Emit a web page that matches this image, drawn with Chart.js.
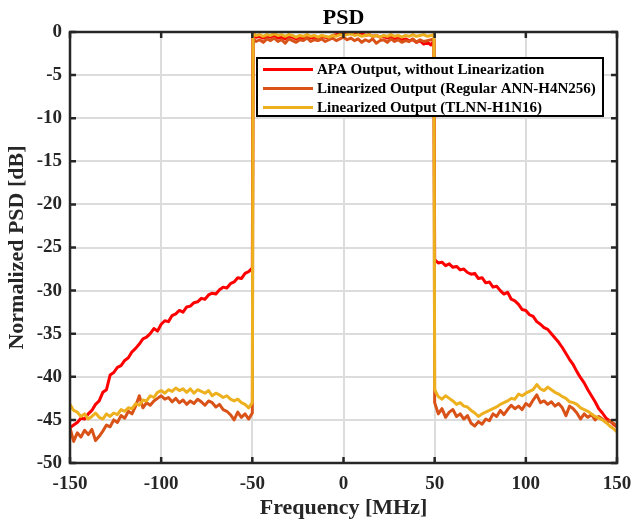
<!DOCTYPE html>
<html>
<head>
<meta charset="utf-8">
<title>PSD</title>
<script src="https://cdn.jsdelivr.net/npm/chart.js@4"></script>
<style>
  body { margin: 0; background: #fff; }
  #psdChart { display: block; }
</style>
</head>
<body>
<canvas id="psdChart" width="633" height="520"></canvas>
<script>
// --- DATA ---
// frequency points in MHz: lower stopband, passband, upper stopband
const freqMHz = [
  -150,-148,-146,-144,-142,-140,-138,-136,-134,-132,
  -130,-128,-126,-124,-122,-120,-118,-116,-114,-112,
  -110,-108,-106,-104,-102,-100,-98,-96,-94,-92,
  -90,-88,-86,-84,-82,-80,-78,-76,-74,-72,
  -70,-68,-66,-64,-62,-60,-58,-56,-54,-52,
  -50,
  -49.6,
  -48,-46,-44,-42,-40,-38,-36,-34,-32,-30,
  -28,-26,-24,-22,-20,-18,-16,-14,-12,-10,
  -8,-6,-4,-2,0,2,4,6,8,10,
  12,14,16,18,20,22,24,26,28,30,
  32,34,36,38,40,42,44,46,48,
  49.6,
  50,52,54,56,58,60,62,64,66,68,
  70,72,74,76,78,80,82,84,86,88,
  90,92,94,96,98,100,102,104,106,108,
  110,112,114,116,118,120,122,124,126,128,
  130,132,134,136,138,140,142,144,146,148,
  150
];

// APA output, without linearization
const apaPSD = [
  -45.9,-45.6,-45.3,-44.8,-44.9,-44.3,-43.9,-43.2,-42.8,-41.8,
  -41.5,-39.8,-39.5,-38.9,-38.7,-38.1,-37.8,-37.1,-36.7,-36.2,
  -35.6,-35.4,-35.0,-34.4,-34.7,-33.9,-33.5,-33.6,-32.9,-32.7,
  -32.3,-32.5,-31.9,-31.8,-31.4,-31.3,-30.9,-31.0,-30.5,-30.3,
  -30.4,-29.9,-29.6,-29.7,-29.2,-29.0,-28.5,-28.6,-28.0,-27.8,
  -27.4,
  -0.4,
  -0.6,-0.5,-0.7,-0.5,-0.6,-0.4,-0.7,-0.6,-0.8,-0.5,
  -0.6,-0.8,-0.6,-0.7,-0.5,-0.7,-0.6,-0.8,-0.5,-0.6,
  -0.7,-0.4,-0.3,-0.2,-0.3,-0.1,-0.2,-0.1,-0.3,-0.2,
  -0.4,-0.3,-0.5,-0.4,-0.6,-0.5,-0.7,-0.6,-0.8,-0.7,
  -0.9,-0.8,-1.0,-0.9,-1.2,-1.0,-1.4,-1.2,-1.5,
  -1.0,
  -26.4,-26.8,-26.7,-27.1,-26.9,-27.3,-27.2,-27.6,-27.5,-27.9,
  -28.1,-28.0,-28.6,-28.5,-29.1,-29.0,-29.6,-29.5,-30.0,-30.4,
  -30.2,-31.0,-31.2,-31.6,-32.2,-32.3,-32.8,-33.0,-33.6,-33.9,
  -34.3,-34.5,-35.0,-35.5,-36.0,-36.6,-37.3,-38.0,-38.6,-39.4,
  -40.1,-40.7,-41.5,-42.2,-42.9,-43.7,-44.2,-44.8,-45.1,-45.5,
  -45.8
];

// Linearized output, regular ANN-H4N256
const annPSD = [
  -45.9,-47.5,-46.5,-47.0,-46.2,-46.7,-46.1,-47.4,-46.9,-46.3,
  -45.6,-45.8,-45.0,-45.3,-44.5,-44.8,-44.0,-44.3,-43.4,-42.2,
  -43.6,-43.0,-43.3,-42.8,-42.5,-42.2,-42.6,-42.4,-42.9,-42.5,
  -43.0,-42.7,-43.2,-42.8,-43.1,-42.6,-42.9,-43.3,-42.8,-43.0,
  -43.5,-43.2,-43.8,-44.0,-44.4,-45.0,-44.1,-44.7,-44.3,-44.9,
  -44.2,
  -0.8,
  -1.1,-0.9,-1.2,-0.8,-1.0,-0.7,-1.1,-0.9,-1.3,-0.8,
  -1.0,-1.2,-0.9,-1.0,-0.7,-1.1,-0.9,-1.0,-0.8,-1.1,
  -0.9,-0.7,-1.0,-0.8,-0.6,-0.9,-0.7,-1.0,-0.8,-1.2,
  -0.9,-1.1,-0.8,-1.3,-1.0,-0.9,-1.2,-0.8,-1.1,-0.9,
  -1.2,-1.0,-1.1,-0.8,-1.2,-0.9,-1.1,-1.0,-0.9,
  -0.8,
  -43.0,-44.3,-43.7,-44.7,-44.1,-43.8,-44.6,-44.3,-44.9,-44.5,
  -45.4,-45.7,-45.2,-45.5,-44.9,-45.1,-44.3,-44.6,-43.9,-44.4,
  -43.8,-43.3,-43.7,-43.4,-43.8,-43.1,-43.4,-42.7,-42.1,-43.0,
  -42.8,-43.2,-42.9,-43.4,-43.1,-43.6,-44.5,-43.4,-43.7,-44.2,
  -44.9,-44.3,-44.7,-44.4,-45.0,-44.6,-44.9,-45.3,-45.1,-45.4,
  -45.7
];

// Linearized output, TLNN-H1N16
const tlnnPSD = [
  -43.2,-43.9,-44.1,-44.6,-44.3,-44.9,-44.6,-44.2,-44.7,-44.9,
  -44.3,-44.6,-44.2,-44.4,-43.8,-44.0,-43.6,-43.7,-43.1,-43.3,
  -42.7,-42.8,-42.2,-42.4,-41.8,-41.6,-41.9,-41.5,-41.7,-41.3,
  -41.6,-41.4,-41.8,-41.4,-41.9,-41.5,-41.7,-41.9,-41.6,-42.2,
  -41.9,-42.1,-42.4,-42.2,-42.6,-42.8,-42.6,-43.0,-43.2,-43.6,
  -43.0,
  -0.1,
  -0.4,-0.3,-0.5,-0.3,-0.4,-0.2,-0.4,-0.3,-0.5,-0.3,
  -0.4,-0.6,-0.4,-0.5,-0.3,-0.5,-0.4,-0.6,-0.4,-0.5,
  -0.6,-0.4,-0.5,-0.3,-0.4,-0.3,-0.2,-0.4,-0.3,-0.5,
  -0.4,-0.3,-0.5,-0.4,-0.6,-0.4,-0.5,-0.3,-0.5,-0.4,
  -0.6,-0.4,-0.5,-0.3,-0.5,-0.4,-0.3,-0.5,-0.4,
  -0.3,
  -41.5,-42.3,-42.6,-42.2,-42.5,-42.8,-43.2,-43.0,-43.4,-43.5,
  -43.9,-44.2,-44.6,-44.3,-44.1,-43.9,-43.7,-43.5,-43.2,-43.0,
  -42.8,-42.5,-42.6,-42.0,-42.2,-41.9,-41.7,-41.5,-40.9,-41.4,
  -41.6,-41.2,-41.5,-41.8,-42.0,-42.3,-42.5,-42.9,-43.0,-43.2,
  -43.6,-43.8,-44.0,-44.3,-44.6,-44.8,-45.0,-45.3,-45.7,-46.0,
  -46.4
];

const seriesLabels = [
  'APA Output, without Linearization',
  'Linearized Output (Regular ANN-H4N256)',
  'Linearized Output (TLNN-H1N16)'
];
const seriesColors = ['#FF0000', '#D95319', '#EDB120'];

const FONT = "'Liberation Serif', 'Times New Roman', serif";
const INK = '#262626';

function toPoints(values) {
  return values.map((v, i) => ({ x: freqMHz[i], y: v }));
}

// box, inward ticks, legend and title drawn on top of the lines
const matlabAxes = {
  id: 'matlabAxes',
  afterDatasetsDraw(chart) {
    const { ctx, chartArea: a, scales: { x, y } } = chart;
    ctx.save();
    ctx.strokeStyle = INK;
    ctx.lineWidth = 2.5;
    ctx.beginPath();
    x.ticks.forEach(t => {
      const px = x.getPixelForValue(t.value);
      ctx.moveTo(px, a.bottom); ctx.lineTo(px, a.bottom - 6);
      ctx.moveTo(px, a.top); ctx.lineTo(px, a.top + 6);
    });
    y.ticks.forEach(t => {
      const py = y.getPixelForValue(t.value);
      ctx.moveTo(a.left, py); ctx.lineTo(a.left + 6, py);
      ctx.moveTo(a.right, py); ctx.lineTo(a.right - 6, py);
    });
    ctx.stroke();
    ctx.strokeRect(a.left, a.top, a.right - a.left, a.bottom - a.top);

    // legend
    const lx = 257, ly = 58, lw = 346, lh = 58;
    ctx.fillStyle = '#fff';
    ctx.fillRect(lx, ly, lw, lh);
    ctx.lineWidth = 2;
    ctx.strokeStyle = '#000';
    ctx.strokeRect(lx, ly, lw, lh);
    ctx.font = 'bold 15px ' + FONT;
    ctx.textBaseline = 'middle';
    ctx.textAlign = 'left';
    chart.data.datasets.forEach((ds, i) => {
      const rowY = ly + 11.5 + i * 19;
      ctx.strokeStyle = ds.borderColor;
      ctx.lineWidth = 3;
      ctx.beginPath();
      ctx.moveTo(lx + 6, rowY); ctx.lineTo(lx + 56, rowY);
      ctx.stroke();
      ctx.fillStyle = '#000';
      ctx.fillText(ds.label, lx + 60, rowY + 1);
    });

    // title
    ctx.font = 'bold 22px ' + FONT;
    ctx.textAlign = 'center';
    ctx.textBaseline = 'alphabetic';
    ctx.fillStyle = '#000';
    ctx.fillText('PSD', (a.left + a.right) / 2, 23.5);
    ctx.restore();
  }
};

new Chart(document.getElementById('psdChart'), {
  type: 'line',
  data: {
    datasets: [
      { label: seriesLabels[0], data: toPoints(apaPSD), borderColor: seriesColors[0], order: 3 },
      { label: seriesLabels[1], data: toPoints(annPSD), borderColor: seriesColors[1], order: 2 },
      { label: seriesLabels[2], data: toPoints(tlnnPSD), borderColor: seriesColors[2], order: 1 }
    ]
  },
  options: {
    responsive: false,
    devicePixelRatio: 1,
    animation: false,
    layout: { padding: { top: 32, right: 16, left: 0, bottom: 0 } },
    elements: {
      line: { borderWidth: 3, tension: 0, fill: false, borderJoinStyle: 'round' },
      point: { radius: 0 }
    },
    plugins: {
      legend: { display: false },
      tooltip: { enabled: false },
      title: { display: false }
    },
    scales: {
      x: {
        type: 'linear',
        min: -150, max: 150,
        afterFit: s => { s.height = 57; s.paddingLeft = 0; s.paddingRight = 0; },
        ticks: { stepSize: 50, padding: 10, color: INK, font: { family: FONT, size: 19, weight: 'bold' }, maxRotation: 0 },
        grid: { color: '#dcdcdc', lineWidth: 2, drawTicks: false },
        border: { display: false },
        title: { display: true, text: 'Frequency [MHz]', color: INK, padding: { top: 0, bottom: -2 },
                 font: { family: FONT, size: 22, weight: 'bold' } }
      },
      y: {
        min: -50, max: 0,
        afterFit: s => { s.width = 70; s.paddingTop = 0; s.paddingBottom = 0; },
        ticks: { stepSize: 5, padding: 8, color: INK, font: { family: FONT, size: 19, weight: 'bold' } },
        grid: { color: '#dcdcdc', lineWidth: 2, drawTicks: false },
        border: { display: false },
        title: { display: true, text: 'Normalized PSD [dB]', color: INK, padding: { top: 4, bottom: 0 },
                 font: { family: FONT, size: 22, weight: 'bold' } }
      }
    }
  },
  plugins: [matlabAxes]
});
</script>
</body>
</html>
